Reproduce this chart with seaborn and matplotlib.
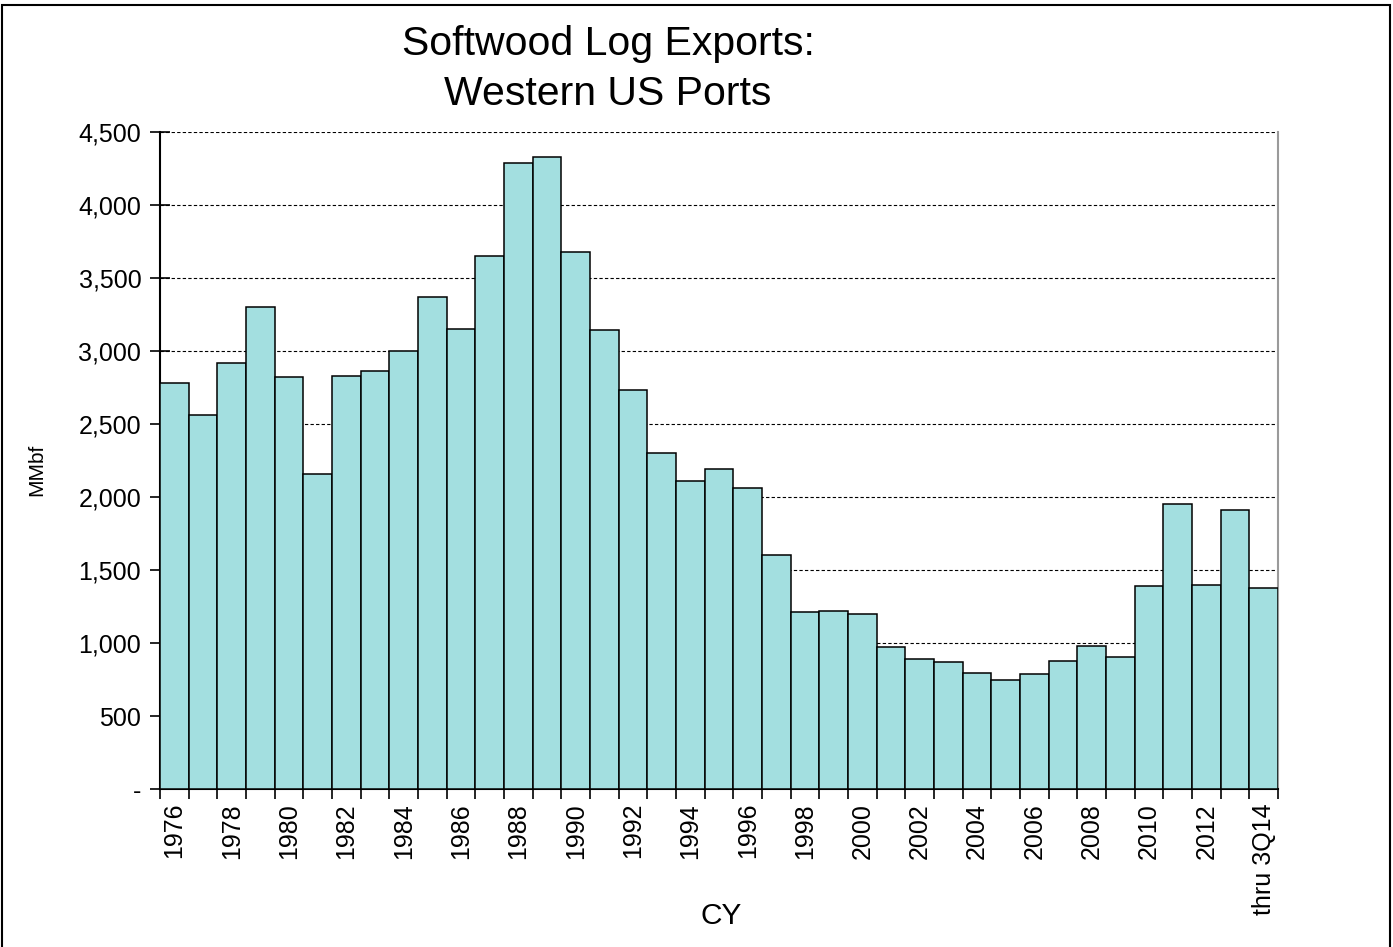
import matplotlib
matplotlib.use("Agg")
import matplotlib.pyplot as plt
from matplotlib.patches import Rectangle
from matplotlib.ticker import FuncFormatter, MultipleLocator, FixedLocator
import seaborn as sns
import pandas as pd

# Annual softwood log exports through western US ports (million board feet)
years = [str(y) for y in range(1976, 2014)] + ["thru 3Q14"]
exports_mmbf = [
    2780, 2560, 2920, 3300, 2820, 2160, 2830, 2860, 3000, 3370,
    3150, 3650, 4290, 4330, 3680, 3145, 2730, 2300, 2110, 2190,
    2060, 1600, 1210, 1220, 1200, 970, 890, 870, 795, 750,
    785, 880, 980, 905, 1390, 1950, 1400, 1910, 1375,
]
title_text = "Softwood Log Exports:\nWestern US Ports"
x_label = "CY"
y_label = "MMbf"

bar_color = "#A3DFE0"

sns.set_theme(style="white")
plt.rcParams["font.family"] = ["Liberation Sans", "DejaVu Sans"]
plt.rcParams["text.color"] = "black"
plt.rcParams["xtick.color"] = "black"
plt.rcParams["ytick.color"] = "black"
plt.rcParams["axes.labelcolor"] = "black"

df = pd.DataFrame({"year": years, "mmbf": exports_mmbf})

fig = plt.figure(figsize=(13.93, 9.47), dpi=100)
ax = fig.add_axes([160 / 1393, 1 - 789 / 947, 1118 / 1393, 657 / 947])

sns.barplot(data=df, x="year", y="mmbf", color=bar_color, saturation=1,
            edgecolor="black", linewidth=1.1, width=1.0, ax=ax, zorder=3)

n = len(years)
ax.set_xlim(-0.5, n - 0.5)
ax.set_ylim(0, 4500)

# dashed horizontal gridlines
ax.yaxis.set_major_locator(MultipleLocator(500))
ax.yaxis.grid(True, color="black", linestyle=(0, (3, 2)), linewidth=0.8, zorder=1)
ax.xaxis.grid(False)
ax.set_axisbelow(True)

ax.yaxis.set_major_formatter(
    FuncFormatter(lambda v, p: "-" if v == 0 else f"{int(v):,}"))
ax.tick_params(axis="y", which="major", direction="inout", length=15,
               width=1.2, color="black", labelsize=18, pad=6, left=True,
               labelcolor="black")

# category labels every other bar, tick marks at bar boundaries
ax.xaxis.set_major_locator(FixedLocator(list(range(0, n, 2))))
ax.set_xticklabels([years[i] for i in range(0, n, 2)], rotation=90,
                   fontsize=18, color="black")
ax.xaxis.set_minor_locator(FixedLocator([i - 0.5 for i in range(n + 1)]))
ax.tick_params(axis="x", which="major", length=0, pad=10, bottom=True)
ax.tick_params(axis="x", which="minor", direction="out", length=7,
               width=1.2, color="black", bottom=True)

for side in ["left", "bottom"]:
    ax.spines[side].set_color("black")
    ax.spines[side].set_linewidth(1.5)
ax.spines["right"].set_color("#9a9a9a")
ax.spines["right"].set_linewidth(1.5)
ax.spines["top"].set_visible(False)

ax.set_xlabel(x_label, fontsize=21.5, color="black")
ax.xaxis.set_label_coords(561 / 1118, -127 / 657)
ax.xaxis.label.set_va("center")
ax.set_ylabel(y_label, fontsize=15, color="black")
ax.yaxis.set_label_coords(-123 / 1118, 319 / 657)
ax.yaxis.label.set_va("center")

fig.text(608 / 1393, 1 - 69 / 947, title_text, ha="center", va="center",
         ma="center", fontsize=29.5, linespacing=1.38, color="black")

# outer chart frame
fig.patches.append(Rectangle((2 / 1393, -0.02), 1388 / 1393, 1.02 - 5 / 947,
                             transform=fig.transFigure, fill=False,
                             edgecolor="black", linewidth=1.5))

fig.savefig("out.png", dpi=100, facecolor="white")
